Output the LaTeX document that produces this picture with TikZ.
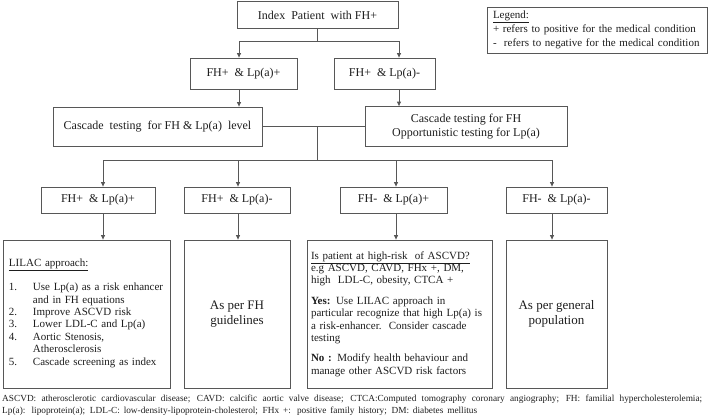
\documentclass[tikz,border=0pt]{standalone}
\usepackage{fontspec}
\setmainfont{Liberation Serif}
\usetikzlibrary{arrows.meta}
\definecolor{linegray}{HTML}{575757}
\definecolor{inkgray}{HTML}{1E1E1E}
\begin{document}
\begin{tikzpicture}[x=1pt,y=-1pt,>={Triangle[length=4.5pt,width=4pt]},
  box/.style={draw=linegray,line width=0.8pt,fill=white,text=inkgray,inner sep=0pt,align=center,font=\fontsize{12}{14}\selectfont},
  tallbox/.style={box,minimum height=148pt},
  conn/.style={draw=linegray,line width=0.8pt},
  fnote/.style={inner sep=0pt,anchor=west,text=inkgray,font=\fontsize{9.3}{10}\selectfont}]
  \useasboundingbox (0,0) rectangle (708,418);
  \node[box,minimum width=161pt,minimum height=27pt](idx)at(317.5,15){Index\ \ Patient\ \ with FH+};
  \node[box,align=left,text width=208pt,inner xsep=6pt,minimum height=46pt,font=\fontsize{11}{14}\selectfont](legend)at(597,30){\underline{Legend:}\\+ refers to positive for the medical condition\\-\ \ refers to negative for the medical condition};
  \node[box,minimum width=107pt,minimum height=31pt](r2a)at(243.5,73.5){FH+\ \ \& Lp(a)+};
  \node[box,minimum width=101pt,minimum height=31pt](r2b)at(384.5,73.5){FH+\ \ \& Lp(a)-};
  \node[box,minimum width=209pt,minimum height=39pt](cA)at(157.5,126.5){Cascade\ \ testing\ \ for FH \& Lp(a)\ \ level};
  \node[box,minimum width=202pt,minimum height=40pt](cB)at(466,126.5){Cascade testing for FH\\Opportunistic testing for Lp(a)};
  \node[box,minimum width=114pt,minimum height=26pt](d1)at(98,200){FH+\ \ \& Lp(a)+};
  \node[box,minimum width=106pt,minimum height=26pt](d2)at(237,200){FH+\ \ \& Lp(a)-};
  \node[box,minimum width=107pt,minimum height=26pt](d3)at(393.5,200){FH-\ \ \& Lp(a)+};
  \node[box,minimum width=101pt,minimum height=26pt](d4)at(556.5,200){FH-\ \ \& Lp(a)-};
  \node[tallbox,align=left,text width=155pt,inner xsep=6pt,font=\fontsize{11}{12.4}\selectfont](e1)at(86.5,314){\underline{LILAC approach:}\\[10pt]
    \begin{tabular}{@{}p{24pt}@{}l@{}}
    1. & Use Lp(a) as a risk enhancer\\
       & and in FH equations\\
    2. & Improve ASCVD risk\\
    3. & Lower LDL-C and Lp(a)\\
    4. & Aortic Stenosis,\\
       & Atherosclerosis\\
    5. & Cascade screening as index
    \end{tabular}};
  \node[tallbox,minimum width=106pt,font=\fontsize{13}{15.5}\selectfont](e2)at(237,314){As per FH\\guidelines};
  \node[tallbox,align=left,text width=177pt,inner xsep=4pt,font=\fontsize{11}{12.4}\selectfont](e3)at(399.5,314){\underline{Is patient at high-risk\ \ of ASCVD?}\\
    e.g ASCVD, CAVD, FHx +, DM,\\
    high\ \ LDL-C, obesity, CTCA +\\[8pt]
    \textbf{Yes:} Use LILAC approach in\\
    particular recognize that high Lp(a) is\\
    a risk-enhancer.\ \ Consider cascade\\
    testing\\[8pt]
    \textbf{No :} Modify health behaviour and\\
    manage other ASCVD risk factors};
  \node[tallbox,minimum width=101pt,font=\fontsize{13}{15.5}\selectfont](e4)at(556.5,314){As per general\\population};
  \node[fnote](fn1)at(2,399){\makebox[700pt][s]{ASCVD: atherosclerotic cardiovascular disease; CAVD: calcific aortic valve disease; CTCA:Computed tomography coronary angiography; FH: familial hypercholesterolemia;}};
  \node[fnote](fn2)at(2,411){\makebox[475pt][s]{Lp(a): lipoprotein(a); LDL-C: low-density-lipoprotein-cholesterol; FHx +: positive family history; DM: diabetes mellitus}};
  \coordinate (sL) at (239,41);
  \coordinate (sR) at (399,41);
  \coordinate (mid) at (317,126.5);
  \coordinate (b1) at (103,160);
  \coordinate (b2) at (238,160);
  \coordinate (b3) at (396,160);
  \coordinate (b4) at (552,160);
  \draw[conn] (idx) -- (idx |- sL);
  \draw[conn,<->] (r2a.north -| sL) -- (sL) -- (sR) -- (r2b.north -| sR);
  \draw[conn,->] (r2a.south -| sL) -- (cA.north -| sL);
  \draw[conn,->] (r2b.south -| sR) -- (cB.north -| sR);
  \draw[conn] (cA) -- (cB);
  \draw[conn] (mid) -- (mid |- b1);
  \draw[conn] (b1) -- (b4);
  \foreach \n in {1,...,4}{
    \draw[conn,->] (b\n) -- (b\n |- d\n.north);
    \draw[conn,->] (b\n |- d\n.south) -- (b\n |- e\n.north);
  }
\end{tikzpicture}
\end{document}
